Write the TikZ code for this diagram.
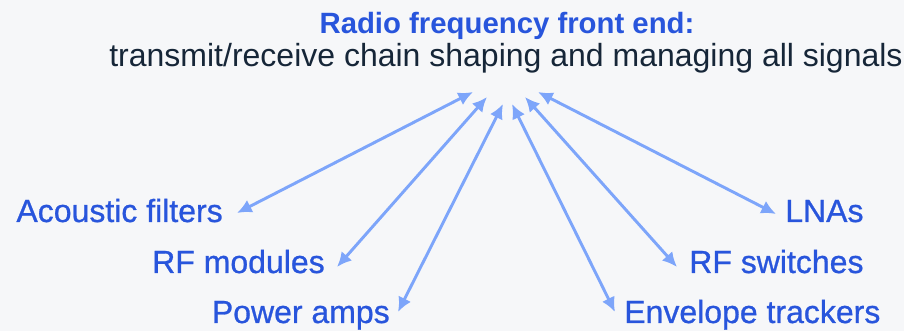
\documentclass[tikz,border=0pt]{standalone}
\usepackage{fontspec}
\setmainfont{Liberation Sans}
\newfontfamily\partfont{Liberation Sans}[FakeBold=0.8]
\usetikzlibrary{arrows.meta,calc}
\definecolor{FrontBlue}{RGB}{40,85,220}
\definecolor{LinkBlue}{RGB}{125,165,250}
\definecolor{InkDark}{RGB}{22,38,56}
\definecolor{PaperGray}{RGB}{246,247,249}

\begin{document}
\begin{tikzpicture}[x=0.75pt,y=-0.75pt,>={Latex[length=11pt,width=10.5pt]},
    part/.style={text=FrontBlue,inner sep=0pt,font=\partfont\fontsize{24}{28}\selectfont},
    link/.style={<->,LinkBlue,line width=2.2pt}]
      \fill[PaperGray] (0,0) rectangle (904,331);
      \node[anchor=base,text=FrontBlue,inner sep=0pt,font=\bfseries\fontsize{22}{26}\selectfont]
        (head) at (507,34) {Radio frequency front end:};
      \node[anchor=base,text=InkDark,inner sep=0pt,font=\fontsize{24}{28}\selectfont]
        (sub) at (506,67) {transmit/receive chain shaping and managing all signals};
      \coordinate (t1) at (473,92);
      \coordinate (t2) at (487,97);
      \coordinate (t3) at (503,104);
      \coordinate (t4) at (512,104);
      \coordinate (t5) at (525,97);
      \coordinate (t6) at (538,92);
      \node[part,anchor=base east] (acf) at (223,222) {Acoustic filters};
      \node[part,anchor=base east] (rfm) at (325,273) {RF modules};
      \node[part,anchor=base east] (pwr) at (390,323) {Power amps};
      \node[part,anchor=base west] (lna) at (785,222) {LNAs};
      \node[part,anchor=base west] (rfs) at (689,273) {RF switches};
      \node[part,anchor=base west] (env) at (624,323) {Envelope trackers};
      \draw[link] (t1) -- ($(acf.base east)+(14,-9)$);
      \draw[link] (t2) -- ($(rfm.base east)+(12,-6)$);
      \draw[link] (t3) -- ($(pwr.base east)+(8,-11)$);
      \draw[link] (t4) -- ($(env.base west)+(-9,-11)$);
      \draw[link] (t5) -- ($(rfs.base west)+(-12,-6)$);
      \draw[link] (t6) -- ($(lna.base west)+(-9,-8)$);
    \end{tikzpicture}
\end{document}
